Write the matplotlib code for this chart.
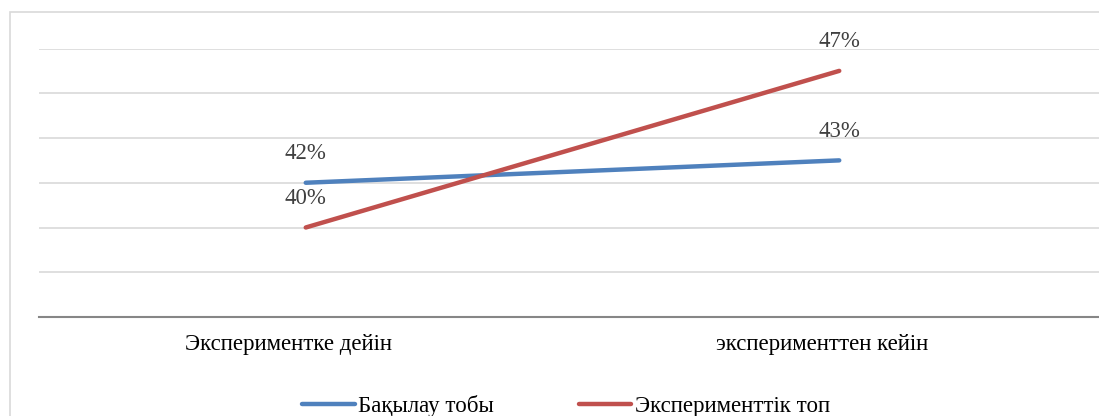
import matplotlib
matplotlib.use("Agg")
import matplotlib.pyplot as plt
from matplotlib.patches import Rectangle
from matplotlib.transforms import ScaledTranslation

categories = ["Экспериментке дейін", "эксперименттен кейін"]
control = [42, 43]
experimental = [40, 47]
series_names = ["Бақылау тобы", "Эксперименттік топ"]
y_ticks = [36, 38, 40, 42, 44, 46, 48]

W, H = 1099, 416
fig = plt.figure(figsize=(W / 100, H / 100), dpi=100)
plt.rcParams["font.family"] = ["Liberation Serif", "DejaVu Serif"]
FS = 16.5

left, right = 39 / W, 1106 / W
bottom, top = 1 - 317 / H, 1 - 48.5 / H
ax = fig.add_axes([left, bottom, right - left, top - bottom])

x = list(range(len(categories)))
c_blue = "#4f81bd"
c_red = "#c0504d"
l1, = ax.plot(x, control, color=c_blue, lw=3.2, solid_capstyle="round", label=series_names[0], zorder=3)
l2, = ax.plot(x, experimental, color=c_red, lw=3.2, solid_capstyle="round", label=series_names[1], zorder=3)

for xi, v in zip(x, control):
    ax.annotate(f"{v}%", (xi, v), xytext=(0, 21.0), textcoords="offset points",
                ha="center", va="center", fontsize=FS, color="#404040")
for xi, v in zip(x, experimental):
    ax.annotate(f"{v}%", (xi, v), xytext=(0, 21.0), textcoords="offset points",
                ha="center", va="center", fontsize=FS, color="#404040")

ax.set_xlim(-0.5, len(categories) - 0.5)
ax.set_ylim(y_ticks[0], y_ticks[-1])
ax.set_yticks(y_ticks)
ax.set_yticklabels([])
ax.tick_params(axis="y", length=0)
ax.set_xticks(x)
ax.set_xticklabels(categories, fontsize=FS, color="#000000")
ax.tick_params(axis="x", length=0, pad=12)
offset = ScaledTranslation(-17 / 100, 0, fig.dpi_scale_trans)
for lab in ax.get_xticklabels():
    lab.set_transform(lab.get_transform() + offset)

ax.grid(axis="y", color="#d9d9d9", lw=1.2)
ax.set_axisbelow(True)
for s in ["top", "right", "left"]:
    ax.spines[s].set_visible(False)
ax.spines["bottom"].set_color("#868686")
ax.spines["bottom"].set_linewidth(1.5)
ax.spines["bottom"].set_zorder(2)

fig.patches.append(Rectangle((9.5 / W, -0.1), 1.2, 1 - 12 / H + 0.1, transform=fig.transFigure,
                             fill=False, edgecolor="#d9d9d9", lw=1.2))

fig.legend(handles=[l1, l2], loc="center", bbox_to_anchor=(566 / W, 1 - 406 / H), ncol=2,
           frameon=False, fontsize=FS, handlelength=2.3, handletextpad=0.15, columnspacing=3.7,
           borderpad=0, borderaxespad=0)

fig.savefig("out.png", dpi=100)
